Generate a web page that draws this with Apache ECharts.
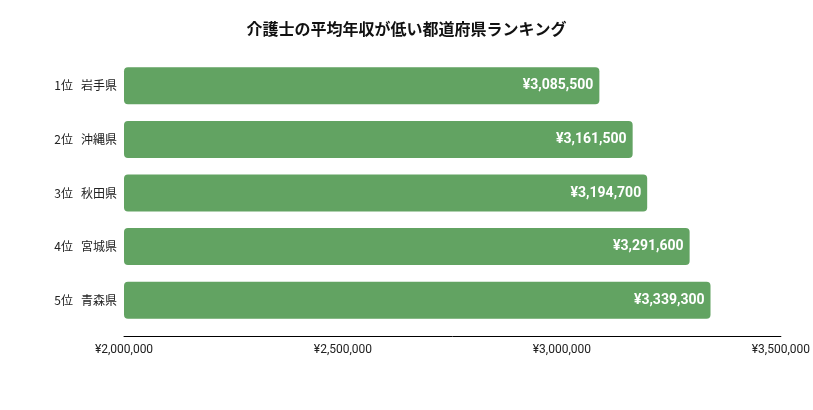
<!DOCTYPE html>
<html>
<head>
<meta charset="utf-8">
<script src="https://cdn.jsdelivr.net/npm/echarts@6/dist/echarts.min.js"></script>
<style>
  html, body { margin: 0; padding: 0; background: #fff; }
  #chart { width: 813px; height: 410px; }
</style>
</head>
<body>
<div id="chart"></div>
<script>
// ranking data (lowest average annual income of care workers)
var ranks = ['1位', '2位', '3位', '4位', '5位'];
var prefectures = ['岩手県', '沖縄県', '秋田県', '宮城県', '青森県'];
var incomes = [3085500, 3161500, 3194700, 3291600, 3339300];
var axisTicks = [2000000, 2500000, 3000000, 3500000];

var categories = ranks.map(function (r, i) {
    return r + '   ' + prefectures[i];
});

function yen(v) {
    return '¥' + v.toString().replace(/\B(?=(\d{3})+(?!\d))/g, ',');
}

var chart = echarts.init(document.getElementById('chart'));

var option = {
    animation: false,
    textStyle: { fontFamily: 'Roboto, "Noto Sans CJK JP", sans-serif' },
    title: {
        text: '介護士の平均年収が低い都道府県ランキング',
        left: 'center',
        top: 16,
        textStyle: {
            fontSize: 16,
            fontWeight: 'bold',
            color: '#111',
            fontFamily: '"Noto Sans CJK JP", sans-serif'
        }
    },
    grid: { left: 124, right: 32, top: 59, bottom: 83 },
    xAxis: {
        type: 'value',
        min: axisTicks[0],
        max: axisTicks[axisTicks.length - 1],
        interval: axisTicks[1] - axisTicks[0],
        offset: 9,
        axisLine: { show: true, lineStyle: { color: '#000', width: 1 } },
        axisTick: { show: false },
        splitLine: { show: false },
        axisLabel: {
            color: '#222',
            fontSize: 12,
            margin: 8,
            formatter: yen
        }
    },
    yAxis: {
        type: 'category',
        inverse: true,
        data: categories,
        axisLine: { show: false },
        axisTick: { show: false },
        axisLabel: {
            color: '#222',
            fontSize: 12,
            margin: 7,
            fontFamily: '"Noto Sans CJK JP", sans-serif'
        }
    },
    series: [{
        type: 'bar',
        data: incomes,
        barWidth: 37,
        itemStyle: { color: '#62a362', borderRadius: 4 },
        label: {
            show: true,
            position: 'insideRight',
            distance: 6,
            color: '#fff',
            fontSize: 14,
            fontWeight: 'bold',
            formatter: function (p) { return yen(p.value); }
        }
    }]
};

chart.setOption(option);
</script>
</body>
</html>
